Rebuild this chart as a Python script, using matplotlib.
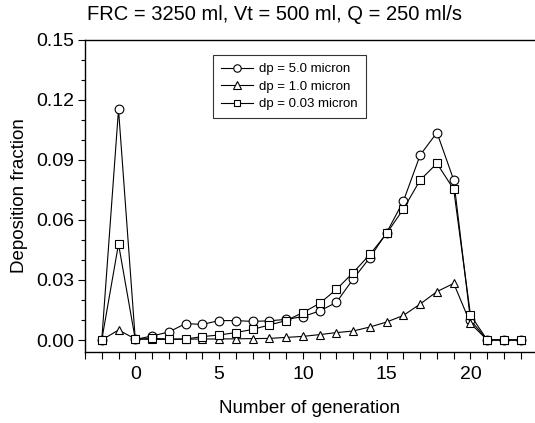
import matplotlib
matplotlib.use("Agg")
import matplotlib.pyplot as plt
from matplotlib.ticker import MultipleLocator, FixedLocator

plt.rcParams['font.family'] = ['Liberation Sans', 'DejaVu Sans']

generation = list(range(-2, 24))
dp_5_0 = [0.0, 0.1153, 0.0003, 0.002, 0.004, 0.0082, 0.0078, 0.0097, 0.0097, 0.0093,
          0.0096, 0.0103, 0.0117, 0.0145, 0.0188, 0.0305, 0.0412, 0.0537, 0.0695, 0.0925,
          0.1037, 0.080, 0.010, 0.0, 0.0, 0.0]
dp_1_0 = [0.0, 0.005, 0.0005, 0.0003, 0.0003, 0.0004, 0.0005, 0.0005, 0.0006, 0.0007,
          0.0008, 0.0013, 0.0018, 0.0027, 0.0037, 0.0045, 0.0065, 0.009, 0.0123, 0.018,
          0.0242, 0.0283, 0.0083, 0.0, 0.0, 0.0]
dp_0_03 = [0.0, 0.048, 0.0003, 0.0008, 0.0005, 0.0005, 0.0017, 0.0025, 0.0037, 0.0053,
           0.0075, 0.0097, 0.0137, 0.0183, 0.0253, 0.0337, 0.0428, 0.0533, 0.0655, 0.080,
           0.0883, 0.0753, 0.0125, 0.0, 0.0, 0.0]

labels = ["dp = 5.0 micron", "dp = 1.0 micron", "dp = 0.03 micron"]
title = "FRC = 3250 ml, Vt = 500 ml, Q = 250 ml/s"

fig = plt.figure(figsize=(5.35, 4.23), dpi=100)
W, H = 535, 423
ax = fig.add_axes([85 / W, 1 - 352 / H, (W - 85) / W, (352 - 40) / H])

style = dict(color='black', lw=0.8, mfc='white', mec='black', mew=0.8, ms=6.3)
ax.plot(generation, dp_5_0, marker='o', label=labels[0], **style)
ax.plot(generation, dp_1_0, marker='^', label=labels[1], **style)
ax.plot(generation, dp_0_03, marker='s', label=labels[2], **{**style, 'ms': 5.8})

ax.set_xlim(-3, 23.85)
ax.set_ylim(-0.006, 0.15)
ax.xaxis.set_major_locator(FixedLocator([0, 5, 10, 15, 20]))
ax.xaxis.set_minor_locator(MultipleLocator(1))
ax.yaxis.set_major_locator(MultipleLocator(0.03))
ax.yaxis.set_minor_locator(MultipleLocator(0.01))
ax.yaxis.set_major_formatter(plt.FuncFormatter(lambda v, p: f"{v:.2f}"))

ax.spines['right'].set_visible(False)
for s in ['left', 'bottom', 'top']:
    ax.spines[s].set_linewidth(1.0)

ax.tick_params(axis='both', which='major', direction='out', length=5, width=0.8,
               labelsize=14, pad=3)
ax.tick_params(axis='x', which='minor', direction='out', length=5, width=0.8)
ax.tick_params(axis='y', which='minor', direction='out', length=3, width=0.8)
ax.tick_params(axis='x', which='major', pad=5)

ax.set_xlabel("Number of generation", fontsize=13.5, labelpad=12)
ax.set_ylabel("Deposition fraction", fontsize=13.5, labelpad=6)

fig.text(275 / W, 1 - 15 / H, title, ha='center', va='center', fontsize=14.5)

leg = ax.legend(loc='upper left', bbox_to_anchor=((213 - 85) / (W - 85), 1 - (55 - 40) / 312),
                fontsize=9.5, frameon=True, fancybox=False, handlelength=2.4,
                borderpad=0.6, labelspacing=0.4, handletextpad=0.5, borderaxespad=0,
                markerscale=0.85)
leg.get_frame().set_edgecolor('black')
leg.get_frame().set_linewidth(0.8)

fig.savefig("out.png", dpi=100)
